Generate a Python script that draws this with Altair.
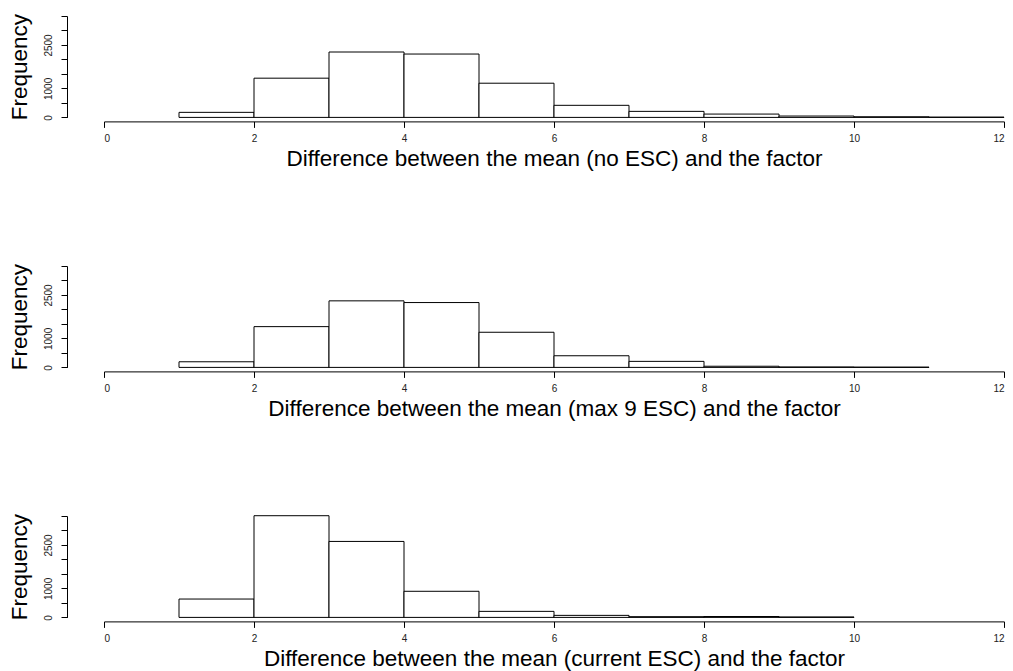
import altair as alt
import pandas as pd

# Histogram counts per unit-wide bin, bins start at 1
counts_no_esc = [174, 1354, 2257, 2187, 1180, 417, 208, 115, 47, 22, 10]
counts_max9_esc = [194, 1407, 2297, 2238, 1213, 402, 208, 40, 15, 10]
counts_current_esc = [634, 3510, 2622, 901, 208, 70, 25, 30, 15]
bin_start = 1

titles = [
    "Difference between the mean (no ESC) and the factor",
    "Difference between the mean (max 9 ESC) and the factor",
    "Difference between the mean (current ESC) and the factor",
]

x_ticks = [0, 2, 4, 6, 8, 10, 12]
y_ticks = [0, 500, 1000, 1500, 2000, 2500, 3000, 3500]
y_shown = [0, 1000, 2500]

FONT = "Liberation Sans"


def histogram(counts, title):
    df = pd.DataFrame({
        "lo": [bin_start + i for i in range(len(counts))],
        "hi": [bin_start + i + 1 for i in range(len(counts))],
        "count": counts,
        "base": [0] * len(counts),
    })
    shown = " || ".join(f"datum.value == {v}" for v in y_shown)
    return alt.Chart(df).mark_rect(
        fill="white", stroke="black", strokeWidth=1
    ).encode(
        x=alt.X(
            "lo:Q",
            scale=alt.Scale(domain=[0, 12], nice=False, zero=False),
            axis=alt.Axis(
                values=x_ticks, format="d", title=title, offset=4,
                tickSize=6, labelFontSize=10, labelPadding=6,
                titleFontSize=22.5, titlePadding=4, grid=False,
            ),
        ),
        x2="hi:Q",
        y=alt.Y(
            "count:Q",
            scale=alt.Scale(domain=[0, 3500], nice=False),
            axis=alt.Axis(
                values=y_ticks, title="Frequency", offset=37,
                tickSize=6, labelFontSize=10, labelAngle=-90,
                labelPadding=8,
                labelExpr=f"({shown}) ? datum.label : ''",
                format="d", titleFontSize=22.5, titlePadding=12, grid=False,
            ),
        ),
        y2="base:Q",
    ).properties(width=900, height=101.4)


chart = alt.vconcat(
    *[histogram(c, t) for c, t in zip(
        [counts_no_esc, counts_max9_esc, counts_current_esc], titles)],
    spacing=148,
    bounds="flush",
).properties(
    padding={"left": 8, "top": 13, "right": 5, "bottom": 2},
    background="white",
).configure_view(
    stroke=None
).configure_axis(
    grid=False,
    domainColor="black",
    tickColor="black",
    labelColor="#222222",
    titleColor="black",
    labelFont=FONT,
    titleFont=FONT,
    titleFontWeight="normal",
    domainWidth=1,
    tickWidth=1,
)

chart.save("out.html", embed_options={"renderer": "svg", "actions": False})
